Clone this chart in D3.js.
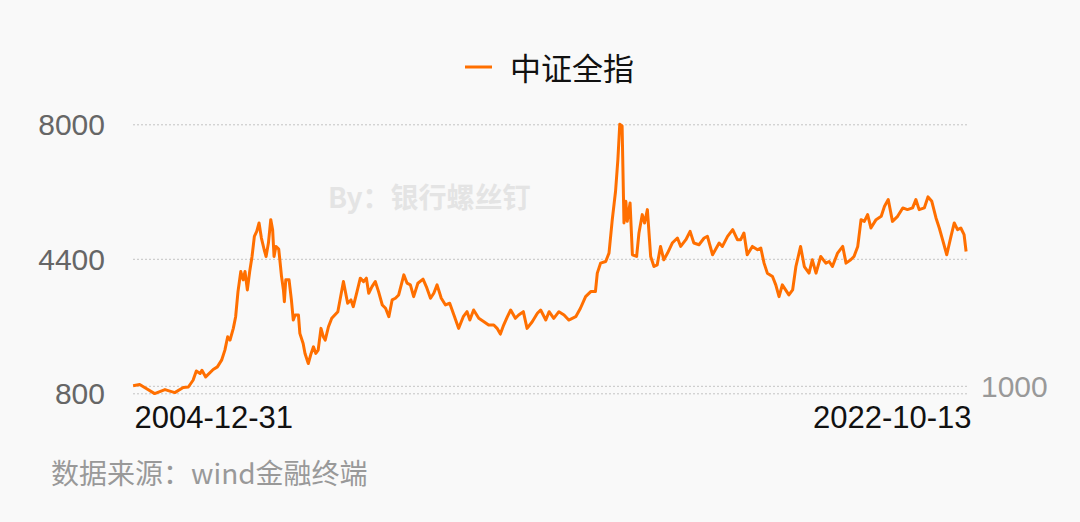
<!DOCTYPE html>
<html><head><meta charset="utf-8">
<script src="https://cdn.jsdelivr.net/npm/d3@7"></script>
<style>html,body{margin:0;padding:0;background:#f9f9f9;} svg{display:block;}</style>
</head><body><svg id="c" width="1080" height="522"></svg>
<script>
const seriesName = "中证全指";
const watermark = "By：银行螺丝钉";
const sourceText = "数据来源：wind金融终端";
const dateLabels = ["2004-12-31", "2022-10-13"];
const leftTicks = [800, 4400, 8000];
const rightTicks = [1000];
const years = [
2005.00,2005.14,2005.28,2005.46,2005.68,2005.89,2006.07,2006.18,2006.28,2006.35,
2006.43,2006.47,2006.55,2006.71,2006.80,2006.89,2006.96,2007.02,2007.07,2007.14,
2007.19,2007.24,2007.30,2007.35,2007.39,2007.44,2007.49,2007.54,2007.59,2007.64,
2007.69,2007.74,2007.80,2007.84,2007.89,2007.94,2007.98,2008.01,2008.05,2008.11,
2008.17,2008.21,2008.23,2008.26,2008.33,2008.38,2008.42,2008.46,2008.53,2008.56,
2008.63,2008.67,2008.74,2008.80,2008.85,2008.90,2008.95,2009.01,2009.06,2009.10,
2009.17,2009.24,2009.37,
2009.49,2009.58,2009.65,2009.70,2009.78,2009.85,2009.92,2009.98,2010.03,2010.10,
2010.17,2010.24,2010.32,2010.39,2010.46,2010.53,2010.60,2010.67,2010.78,2010.85,
2010.92,2010.99,2011.08,2011.19,2011.26,2011.35,2011.42,2011.49,2011.58,2011.67,
2011.76,2011.85,2011.95,2012.05,2012.13,2012.19,2012.27,2012.38,2012.49,2012.59,
2012.70,2012.77,2012.84,2012.91,2012.99,2013.06,2013.16,2013.23,2013.33,2013.41,
2013.52,2013.63,2013.70,
2013.81,2013.88,2013.98,2014.09,2014.20,2014.30,2014.45,2014.55,2014.66,2014.77,
2014.87,2014.91,2014.98,2015.09,2015.16,2015.23,2015.30,2015.35,2015.39,2015.44,
2015.48,2015.52,2015.55,2015.61,2015.66,2015.75,2015.80,2015.87,2015.92,2015.98,
2016.05,2016.12,2016.19,2016.26,2016.33,2016.41,2016.51,2016.62,2016.69,2016.80,
2016.89,2016.97,2017.08,2017.19,2017.26,2017.37,2017.51,2017.58,2017.69,2017.80,
2017.90,2017.97,2018.04,2018.11,2018.22,2018.33,2018.40,2018.47,2018.54,2018.65,
2018.72,2018.79,2018.86,2018.93,2019.00,2019.08,2019.15,2019.25,2019.33,2019.43,
2019.50,2019.58,2019.68,2019.79,2019.86,2019.93,2020.04,2020.15,2020.22,2020.32,
2020.39,2020.47,2020.54,2020.61,2020.68,2020.75,2020.86,2020.97,2021.04,2021.12,
2021.21,2021.32,2021.43,2021.53,2021.64,2021.71,2021.78,2021.89,2021.97,2022.05,
2022.14,2022.21,2022.28,2022.37,2022.46,2022.53,2022.60,2022.67,2022.74,2022.783
];
const values = [
1000,1034,926,792,899,819,953,969,1149,1399,
1329,1418,1238,1437,1507,1687,1955,2313,2224,2538,
2850,3522,4059,3836,4059,3567,4059,4462,4999,5134,
5359,4956,4642,4462,4822,5448,5179,4462,4731,4661,
3925,3567,3253,3836,3836,3299,2761,2896,2896,2404,
2135,1867,1598,1867,2044,1867,1955,2538,2313,2224,
2581,2807,2984,
3790,3210,3299,3119,3522,3882,3790,3882,3479,3656,
3790,3522,3164,3076,2850,3299,3344,3433,3970,3747,
3702,3387,3747,3855,3656,3344,3479,3702,3344,3164,
3210,2896,2538,2850,2984,2761,3030,2807,2716,2627,
2627,2538,2385,2627,2850,3030,2807,2896,2984,2538,
2716,2941,3030,
2761,2984,2807,2984,2896,2761,2850,3076,3387,3522,
3522,4016,4284,4327,4553,5448,6208,7060,8000,7955,
5359,5939,5402,5896,4508,4462,5090,5582,5359,5716,
4462,4193,4239,4731,4373,4553,4822,4956,4731,4911,
5134,4822,4776,4956,4999,4508,4822,4731,4999,5179,
4911,4911,5090,4508,4731,4642,4688,4284,4016,3925,
3702,3387,3702,3567,3433,3567,4193,4731,4193,4016,
4373,4016,4462,4284,4327,4193,4553,4731,4284,4373,
4462,4731,5448,5402,5582,5225,5448,5537,5805,5985,
5402,5537,5762,5717,5762,5985,5717,5762,6058,5940,
5493,5225,4911,4508,4999,5359,5179,5225,5045,4596
];

const latin = "'Liberation Sans', Arial, 'Noto Sans CJK SC', sans-serif";
const cjk = "'Noto Sans CJK SC', 'Liberation Sans', sans-serif";
const lineColor = "#ff6f00";

function fromDecimalYear(t) {
  const yr = Math.floor(t);
  const s = new Date(yr, 0, 1), e = new Date(yr + 1, 0, 1);
  return new Date(+s + (t - yr) * (e - s));
}
const parse = d3.timeParse("%Y-%m-%d");
const data = years.map((t, i) => ({ date: fromDecimalYear(t), value: values[i] }));
const tickDates = dateLabels.map(parse);

const svg = d3.select("#c");
const L = 133, R = 966, T = 124.3, B = 393.3;

const x = d3.scaleTime().domain([tickDates[0], tickDates[1]]).range([L, R]);
const y = d3.scaleLinear().domain([800, 8000]).range([B, T]);

// gridlines
const grid = svg.append("g").attr("transform", `translate(${L},0)`)
  .call(d3.axisLeft(y).tickValues(leftTicks.concat(rightTicks)).tickSize(-(R - L + 1)).tickFormat(""));
grid.select(".domain").remove();
grid.selectAll("line").attr("stroke", "#c4c4c4").attr("stroke-width", 1).attr("stroke-dasharray", "2,2");

// left axis
const ya = svg.append("g").attr("transform", `translate(${L},0)`)
  .call(d3.axisLeft(y).tickValues(leftTicks).tickSize(0).tickPadding(28).tickFormat(d3.format("d")));
ya.select(".domain").remove();
ya.selectAll("text").attr("fill", "#666").attr("font-size", 30).attr("font-family", latin).attr("dy", "0.34em");

// right axis
const yr = svg.append("g").attr("transform", `translate(${R},0)`)
  .call(d3.axisRight(y).tickValues(rightTicks).tickSize(0).tickPadding(15).tickFormat(d3.format("d")));
yr.select(".domain").remove();
yr.selectAll("text").attr("fill", "#999").attr("font-size", 30).attr("font-family", latin).attr("dy", "0.36em");

// bottom axis
const xa = svg.append("g").attr("transform", `translate(0,${B})`)
  .call(d3.axisBottom(x).tickValues(tickDates).tickSize(0).tickPadding(13).tickFormat((d, i) => dateLabels[i]));
xa.select(".domain").remove();
xa.selectAll("text").attr("fill", "#111").attr("font-size", 31).attr("font-family", latin)
  .attr("text-anchor", (d, i) => i === 0 ? "start" : "end")
  .attr("dx", (d, i) => i === 0 ? 1 : 5);

// watermark
svg.append("text").attr("x", 328).attr("y", 208).attr("fill", "#e4e4e4")
  .attr("font-size", 28).attr("font-weight", "bold").attr("font-family", cjk).text(watermark);

// line
svg.append("path").datum(data)
  .attr("fill", "none").attr("stroke", lineColor).attr("stroke-width", 3)
  .attr("stroke-linejoin", "round")
  .attr("d", d3.line().x(d => x(d.date)).y(d => y(d.value)));

// legend
svg.append("line").attr("x1", 465).attr("x2", 492).attr("y1", 67).attr("y2", 67)
  .attr("stroke", lineColor).attr("stroke-width", 3);
svg.append("text").attr("x", 510).attr("y", 80).attr("fill", "#111")
  .attr("font-size", 31).attr("font-family", cjk).text(seriesName);

// source
svg.append("text").attr("x", 51).attr("y", 484).attr("fill", "#999")
  .attr("font-size", 28).attr("font-family", cjk).text(sourceText);
</script>
</body></html>
